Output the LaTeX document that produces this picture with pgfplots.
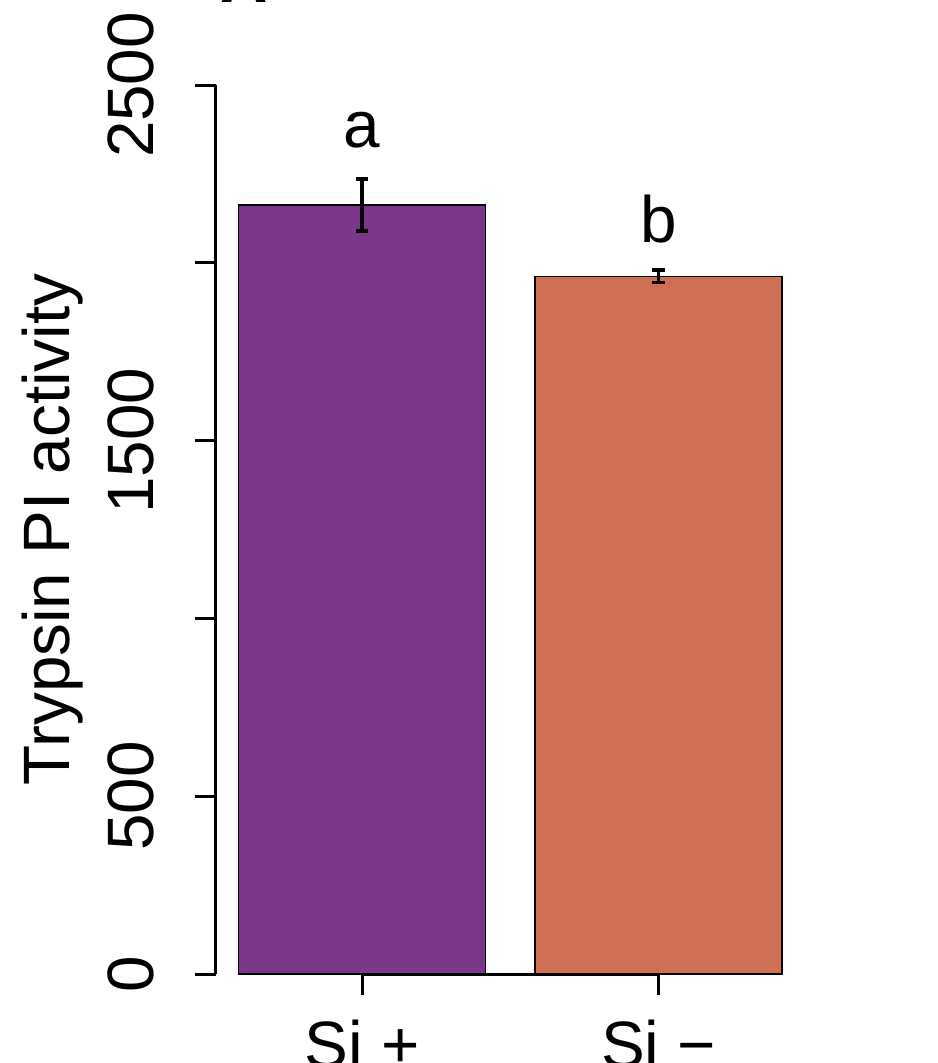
\documentclass[border=0pt]{standalone}
\usepackage{fontspec}
\setmainfont{Liberation Sans}
\usepackage{pgfplots}
\pgfplotsset{compat=1.18}
\definecolor{barpurple}{HTML}{7B378A}
\definecolor{barorange}{HTML}{CF7055}
\begin{document}
\begin{tikzpicture}
\path[use as bounding box] (-54pt,-22.25pt) rectangle (180.5pt,243.5pt);
\clip (-54pt,-22.25pt) rectangle (180.5pt,243.5pt);
\begin{axis}[
  at={(0,0)}, anchor=south west,
  scale only axis=true,
  width=171pt, height=222.25pt,
  xmin=0.109, xmax=2.877, ymin=0, ymax=2500,
  axis x line*=bottom, axis y line*=left,
  x axis line style={draw=none},
  axis line style={-, line width=0.75pt},
  tick align=outside,
  major tick length=5.2pt,
  every tick/.style={black, line width=0.75pt},
  xtick={0.7,1.9}, xticklabels={Si +, Si −},
  ytick={0,500,1000,1500,2000,2500},
  yticklabels={0,500,,1500,,2500},
  font=\fontsize{16.4}{19}\selectfont,
  xticklabel style={anchor=base, yshift=-18.2pt},
  yticklabel style={xshift=-10.5pt, rotate=90, anchor=base},
  every axis y label/.style={at={(axis description cs:0,0.5)}, xshift=-36.5pt, rotate=90, anchor=base},
  ylabel={Trypsin PI activity},
  clip=false,
]
\addplot[ybar, bar width=1, bar shift=0pt, fill=barpurple, draw=black, line width=0.4pt,
  error bars/.cd, y dir=both, y explicit,
  error bar style={line width=0.9pt, black},
  error mark options={rotate=90, mark size=1.6pt, line width=0.9pt, black}]
  coordinates {(0.7,2162) +- (0,73)};
\addplot[ybar, bar width=1, bar shift=0pt, fill=barorange, draw=black, line width=0.4pt,
  error bars/.cd, y dir=both, y explicit,
  error bar style={line width=0.9pt, black},
  error mark options={rotate=90, mark size=1.6pt, line width=0.9pt, black}]
  coordinates {(1.9,1962) +- (0,17)};
\draw[line width=0.75pt] (axis cs:0.7,0) -- (axis cs:1.9,0);
\node[anchor=base] at (axis cs:0.7,2325) {a};
\node[anchor=base] at (axis cs:1.9,2058) {b};
\end{axis}
\node[anchor=base, font=\fontsize{16.4}{19}\selectfont\bfseries] at (7.1pt,242.75pt) {A};
\end{tikzpicture}
\end{document}
